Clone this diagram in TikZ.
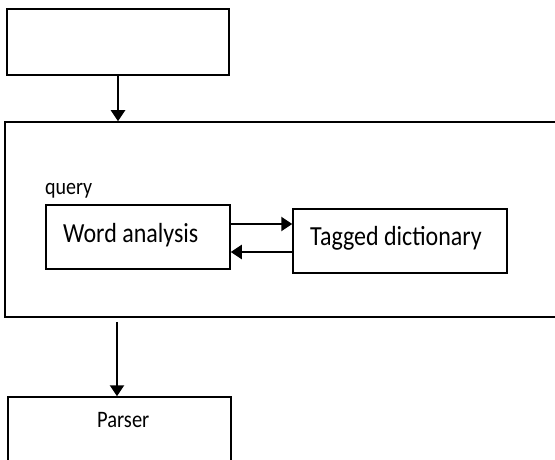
\documentclass[tikz,border=0pt]{standalone}
\usepackage{fontspec}
\usepackage{graphicx}
\setmainfont{Carlito}
\usetikzlibrary{arrows.meta}
\newcommand{\tallt}[1]{\scalebox{1}[1.15]{#1}}
\tikzset{
  box/.style={draw, line width=1.5pt, rectangle, inner sep=0pt},
  arr/.style={line width=2.4pt, -{Triangle[length=11pt,width=14pt]}},
  lbl/.style={anchor=base west, inner sep=0pt},
}
\begin{document}
\begin{tikzpicture}[x=1pt,y=1pt]
\useasboundingbox (0,0) rectangle (555,459);
\clip (0,0) rectangle (555,459);
\node[box, minimum width=222pt, minimum height=66pt] (top) at (118,417) {};
\node[box, minimum width=555pt, minimum height=195pt] (outer) at (282.5,239.5) {};
\node[box, minimum width=184pt, minimum height=64pt] (word) at (138,222) {};
\node[lbl, font=\fontsize{24}{28}\selectfont] (wordtxt) at (63,217) {\tallt{Word analysis}};
\node[box, minimum width=214pt, minimum height=64pt] (tagged) at (400,218) {};
\node[lbl, font=\fontsize{24}{28}\selectfont] (taggedtxt) at (310,214) {\tallt{Tagged dictionary}};
\node[lbl, font=\fontsize{20}{24}\selectfont] (query) at (45,265) {\tallt{query}};
\node[box, minimum width=223pt, minimum height=83pt] (parser) at (119.5,20.5) {};
\node[lbl, font=\fontsize{20.5}{24}\selectfont] (parsertxt) at (97,32) {\tallt{Parser}};
\draw[arr] (top.south) -- (top.south |- outer.north);
\coordinate (bstart) at ([yshift=-4pt]outer.south -| 117,0);
\draw[arr] (bstart) -- (bstart |- parser.north);
\draw[arr] ([yshift=13pt]word.east) -- ([yshift=13pt]word.east -| tagged.west);
\draw[arr] ([yshift=-15pt]word.east -| tagged.west) -- ([yshift=-15pt]word.east);
\end{tikzpicture}
\end{document}
